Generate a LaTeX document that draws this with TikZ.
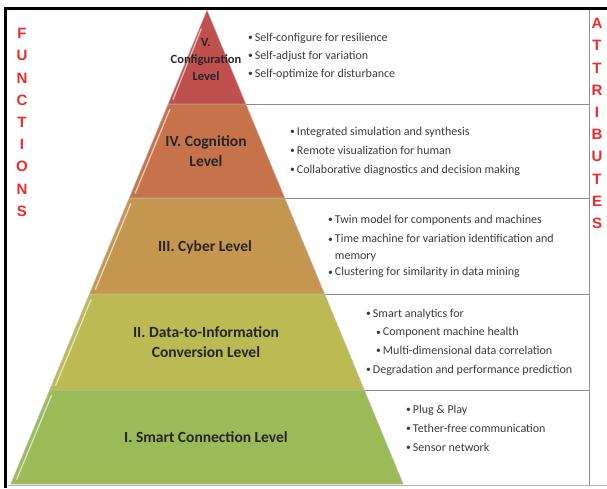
\documentclass[tikz,border=0pt]{standalone}
\usepackage{fontspec}
\setmainfont{Carlito}
\newfontfamily\lettersfont{Liberation Sans}
\usetikzlibrary{calc}
\definecolor{cV}{RGB}{192,80,77}
\definecolor{cIV}{RGB}{198,115,76}
\definecolor{cIII}{RGB}{196,150,80}
\definecolor{cII}{RGB}{188,186,82}
\definecolor{cI}{RGB}{155,187,89}
\definecolor{sidered}{RGB}{238,42,42}
\definecolor{txt}{RGB}{60,60,60}
\newcommand{\bl}{\raisebox{0.6pt}{\scalebox{0.8}{\textbullet}}\hspace{2pt}}
\newcommand{\bi}{\phantom{\scalebox{0.8}{\textbullet}}\hspace{2pt}}
\begin{document}
\begin{tikzpicture}[x=1pt,y=-1pt,
  band/.style={draw=white!75!black, line width=0.5pt},
  hl/.style={draw=white, opacity=0.6, line width=1.3pt, line cap=round},
  lvl/.style={font=\bfseries\fontsize{15.5}{20}\selectfont, text=black!85, align=center, inner sep=0pt},
  attr/.style={font=\fontsize{12}{18.7}\selectfont, text=txt, align=left, anchor=west, inner sep=0pt},
  sepline/.style={draw=black!45, line width=0.7pt},
  side/.style={font=\lettersfont\bfseries\fontsize{15}{22.2}\selectfont, text=sidered, align=center, inner sep=0pt}]
\useasboundingbox (0,0) rectangle (607,488);
\fill[white] (0,0) rectangle (607,488);
% pyramid corners
\coordinate (A) at (207,10);
\coordinate (L1) at (168.1,104); \coordinate (R1) at (245.9,104);
\coordinate (L2) at (129.2,198); \coordinate (R2) at (284.8,198);
\coordinate (L3) at (89.4,294);  \coordinate (R3) at (324.6,294);
\coordinate (L4) at (49.7,390);  \coordinate (R4) at (364.3,390);
\coordinate (L5) at (10.8,484);  \coordinate (R5) at (403.2,484);
% table corners
\coordinate (T0) at (589,10);
\coordinate (T1) at (589,104);
\coordinate (T2) at (589,198);
\coordinate (T3) at (589,294);
\coordinate (T4) at (589,390);
\coordinate (T5) at (589,485);
\coordinate (B0) at (8,485.5);
\coordinate (B1) at (607,485.5);
% table lines
\draw[sepline] (R1) -- (T1);
\draw[sepline] (R2) -- (T2);
\draw[sepline] (R3) -- (T3);
\draw[sepline] (R4) -- (T4);
\draw[sepline] (T0) -- (T5);
\draw[draw=black!30, line width=0.8pt] (B0) -- (B1);
% bands
\filldraw[band, fill=cV] (A) -- (R1) -- (L1) -- cycle;
\filldraw[band, fill=cIV] (L1) -- (R1) -- (R2) -- (L2) -- cycle;
\filldraw[band, fill=cIII] (L2) -- (R2) -- (R3) -- (L3) -- cycle;
\filldraw[band, fill=cII] (L3) -- (R3) -- (R4) -- (L4) -- cycle;
\filldraw[band, fill=cI] (L4) -- (R4) -- (R5) -- (L5) -- cycle;
% bevel highlights
\draw[hl] ($(A)!0.2!(L1)+(2,0)$) -- ($(A)!0.95!(L1)+(3,0)$);
\draw[hl] ($(L1)!0.06!(L2)+(4,0)$) -- ($(L1)!0.95!(L2)+(4,0)$);
\draw[hl] ($(L2)!0.06!(L3)+(4,0)$) -- ($(L2)!0.95!(L3)+(4,0)$);
\draw[hl] ($(L3)!0.06!(L4)+(4,0)$) -- ($(L3)!0.95!(L4)+(4,0)$);
\draw[hl] ($(L4)!0.06!(L5)+(4,0)$) -- ($(L4)!0.95!(L5)+(4,0)$);
% frame
\draw[line width=3pt] (5,488) -- (5,8.5) -- (607,8.5);
% level labels
\node[lvl, font=\bfseries\fontsize{12.5}{17}\selectfont] (l5) at (206,59) {V.\\Configuration\\Level};
\node[lvl] (l4) at (206,151.5) {IV. Cognition\\Level};
\node[lvl] (l3) at (205,247) {III. Cyber Level};
\node[lvl] (l2) at (206,342.5) {II. Data-to-Information\\Conversion Level};
\node[lvl] (l1) at (206,437) {I. Smart Connection Level};
% attributes
\node[attr, font=\fontsize{12}{18}\selectfont] (a5) at (248,56) {\bl Self-configure for resilience\\\bl Self-adjust for variation\\\bl Self-optimize for disturbance};
\node[attr, font=\fontsize{12}{19}\selectfont] (a4) at (290,151) {\bl Integrated simulation and synthesis\\\bl Remote visualization for human\\\bl Collaborative diagnostics and decision making};
\node[attr, font=\fontsize{12}{16.5}\selectfont] (a3) at (328,246.5) {\bl Twin model for components and machines\\[3pt]\bl Time machine for variation identification and\\\bi memory\\\bl Clustering for similarity in data mining};
\node[attr] (a2) at (366,342) {\bl Smart analytics for\\\hspace{10pt}\bl Component machine health\\\hspace{10pt}\bl Multi-dimensional data correlation\\\bl Degradation and performance prediction};
\node[attr, font=\fontsize{12}{19}\selectfont] (a1) at (406,428) {\bl Plug \& Play\\\bl Tether-free communication\\\bl Sensor network};
% side words
\node[side] (fun) at (22,122.5) {F\\U\\N\\C\\T\\I\\O\\N\\S};
\node[side] (att) at (597,123.5) {A\\T\\T\\R\\I\\B\\U\\T\\E\\S};
\end{tikzpicture}
\end{document}
